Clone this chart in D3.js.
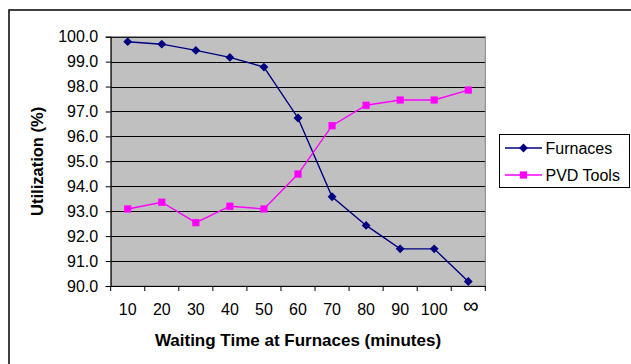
<!DOCTYPE html>
<html><head><meta charset="utf-8">
<script src="https://cdn.jsdelivr.net/npm/d3@7/dist/d3.min.js"></script>
<style>body{margin:0;background:#fff}svg{display:block}text{font-family:"Liberation Sans",Arial,sans-serif}</style>
</head><body><svg id="c" width="631" height="364"></svg>
<script>
const categories = ["10","20","30","40","50","60","70","80","90","100","\u221E"];
const furnaces = [99.8,99.7,99.45,99.17,98.78,96.74,93.58,92.43,91.49,91.49,90.18];
const pvdTools = [93.09,93.36,92.54,93.2,93.09,94.49,96.43,97.25,97.46,97.46,97.86];
const yTicks = [90,91,92,93,94,95,96,97,98,99,100];
const seriesNames = ["Furnaces","PVD Tools"];

const svg = d3.select("#c");
const L=110.7, R=485.3, T=36.7, B=286;
const FS = 16;
// outer chart border
svg.append("rect").attr("x",9).attr("y",10).attr("width",640).attr("height",380)
  .attr("fill","none").attr("stroke","#111").attr("stroke-width",1.6);

const x = d3.scaleBand().domain(categories).range([L,R]);
const y = d3.scaleLinear().domain([90,100]).range([B,T]);

svg.append("rect").attr("x",L).attr("y",T).attr("width",R-L).attr("height",B-T).attr("fill","#C0C0C0");
svg.append("g").selectAll("line").data(yTicks.slice(1)).join("line")
  .attr("x1",L).attr("x2",R).attr("y1",d=>Math.round(y(d))+0.5).attr("y2",d=>Math.round(y(d))+0.5)
  .attr("stroke","#000").attr("stroke-width",1);
svg.append("rect").attr("x",L).attr("y",T).attr("width",R-L).attr("height",B-T).attr("fill","none").attr("stroke","#808080");

const ya = svg.append("g").attr("transform",`translate(${L},0)`)
  .call(d3.axisLeft(y).tickValues(yTicks).tickFormat(d3.format(".1f")).tickSize(5).tickPadding(7.5));
ya.select(".domain").attr("stroke","#000");
ya.selectAll("text").attr("font-size",FS).attr("fill","#000");

const xa = svg.append("g").attr("transform",`translate(0,${B})`)
  .call(d3.axisBottom(x).tickSize(0).tickPadding(18));
xa.select(".domain").attr("stroke","#000");
xa.selectAll("text").attr("fill","#000")
  .attr("font-size",d=>d==="\u221E"?22:FS)
  .attr("dx",d=>d==="\u221E"?"0.12em":0)
  .attr("dy",d=>d==="\u221E"?"0.42em":"0.71em");
// boundary ticks
const bounds = categories.map(c=>x(c)).concat([R]);
svg.append("g").selectAll("line").data(bounds).join("line")
  .attr("x1",d=>d).attr("x2",d=>d).attr("y1",B).attr("y2",B+5).attr("stroke","#000");

const line = d3.line().x((d,i)=>x(categories[i])+x.bandwidth()/2).y(d=>y(d));
const diamond = d3.symbol().type(d3.symbolDiamond2).size(50);
const square = d3.symbol().type(d3.symbolSquare).size(52);

svg.append("path").datum(furnaces).attr("d",line).attr("fill","none").attr("stroke","#000080").attr("stroke-width",1.4);
svg.append("path").datum(pvdTools).attr("d",line).attr("fill","none").attr("stroke","#FF00FF").attr("stroke-width",1.4);
svg.append("g").selectAll("path").data(furnaces).join("path")
  .attr("d",diamond).attr("fill","#000080")
  .attr("transform",(d,i)=>`translate(${x(categories[i])+x.bandwidth()/2},${y(d)})`);
svg.append("g").selectAll("path").data(pvdTools).join("path")
  .attr("d",square).attr("fill","#FF00FF")
  .attr("transform",(d,i)=>`translate(${x(categories[i])+x.bandwidth()/2},${y(d)})`);

svg.append("text").attr("x",(L+R)/2).attr("y",345.5).attr("text-anchor","middle")
  .attr("font-size",17).attr("font-weight","bold").text("Waiting Time at Furnaces (minutes)");
svg.append("text").attr("transform",`translate(43,${(T+B)/2}) rotate(-90)`).attr("text-anchor","middle")
  .attr("font-size",16.5).attr("font-weight","bold").text("Utilization (%)");

// legend
const lg = svg.append("g");
lg.append("rect").attr("x",499.5).attr("y",134.5).attr("width",130).attr("height",53).attr("fill","#fff").attr("stroke","#000");
const colors = ["#000080","#FF00FF"];
const syms = [diamond, square];
seriesNames.forEach((n,i)=>{
  const cy = 148 + i*27;
  lg.append("line").attr("x1",505).attr("x2",542).attr("y1",cy).attr("y2",cy).attr("stroke",colors[i]).attr("stroke-width",1.4);
  lg.append("path").attr("d",syms[i]).attr("fill",colors[i]).attr("transform",`translate(523.5,${cy})`);
  lg.append("text").attr("x",545.5).attr("y",cy).attr("dy","0.36em").attr("font-size",FS).text(n);
});
</script></body></html>
